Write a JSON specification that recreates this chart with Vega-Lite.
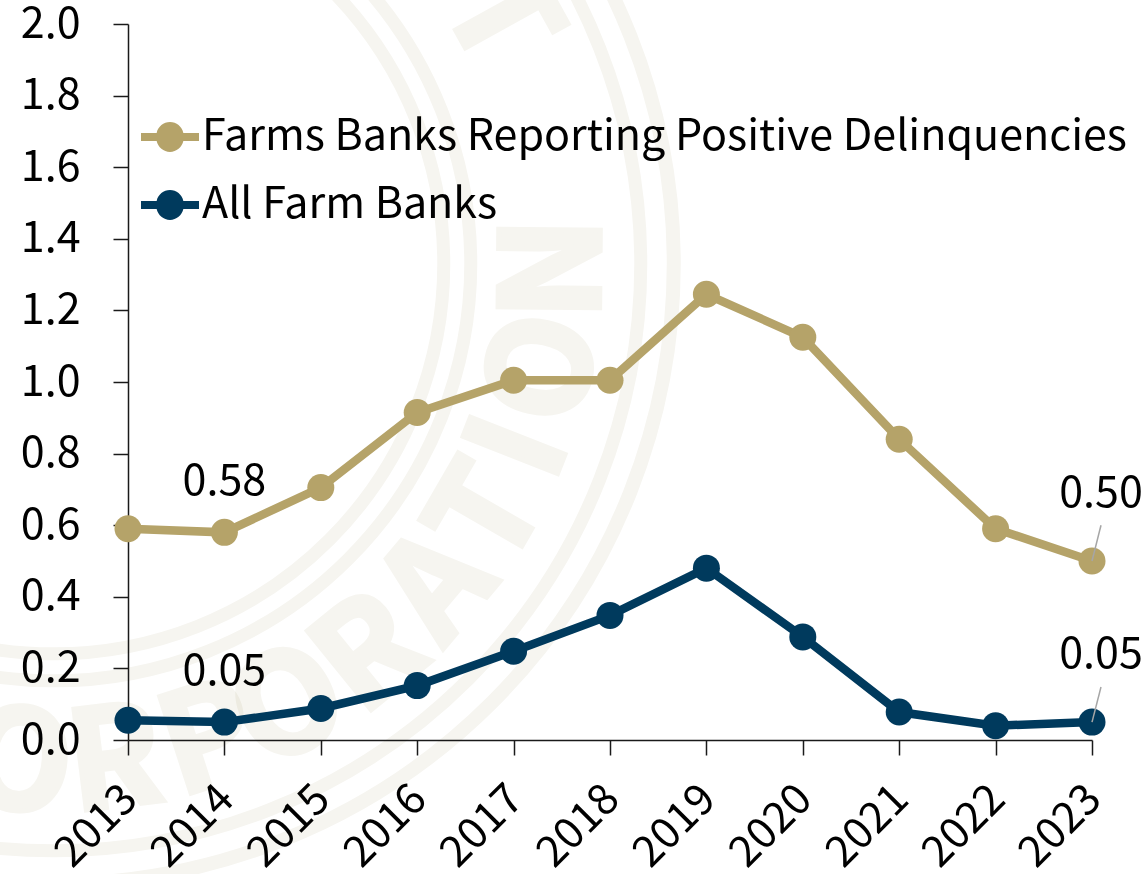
{
  "$schema": "https://vega.github.io/schema/vega-lite/v6.json",
  "width": 964,
  "height": 716,
  "padding": {"left": 128, "top": 24, "right": 53, "bottom": 134},
  "autosize": "none",
  "background": "white",
  "config": {"view": {"stroke": null}, "font": "Noto Sans CJK SC"},
  "resolve": {"scale": {"x": "independent", "y": "independent"}},
  "layer": [
    {
      "description": "Faint seal behind the chart: four rings and the lettering around them",
      "encoding": {
        "x": {"field": "pos", "type": "quantitative", "scale": {"domain": [2013, 2023], "nice": false, "zero": false}, "axis": null},
        "y": {"field": "level", "type": "quantitative", "scale": {"domain": [0, 2], "nice": false}, "axis": null}
      },
      "layer": [
        {"data": {"values": [{"pos": 2012.23, "level": 1.33}]}, "mark": {"type": "point", "filled": false, "stroke": "#f6f5f0", "blend": "multiply", "strokeWidth": 14, "size": 1537600, "opacity": 1}},
        {"data": {"values": [{"pos": 2012.23, "level": 1.33}]}, "mark": {"type": "point", "filled": false, "stroke": "#f6f5f0", "blend": "multiply", "strokeWidth": 13, "size": 1378276, "opacity": 1}},
        {"data": {"values": [{"pos": 2012.23, "level": 1.33}]}, "mark": {"type": "point", "filled": false, "stroke": "#f6f5f0", "blend": "multiply", "strokeWidth": 13, "size": 695556, "opacity": 1}},
        {"data": {"values": [{"pos": 2012.23, "level": 1.33}]}, "mark": {"type": "point", "filled": false, "stroke": "#f6f5f0", "blend": "multiply", "strokeWidth": 13, "size": 608400, "opacity": 1}},
        {
          "data": {"values": [
            {"letter": "T", "pos": 2016.82, "level": 2.014, "turn": 61},
            {"letter": "N", "pos": 2017.47, "level": 1.317, "turn": 270.5},
            {"letter": "O", "pos": 2017.36, "level": 1.036, "turn": 282},
            {"letter": "I", "pos": 2017.10, "level": 0.813, "turn": 291.5},
            {"letter": "T", "pos": 2016.77, "level": 0.624, "turn": 300},
            {"letter": "A", "pos": 2016.24, "level": 0.423, "turn": 310},
            {"letter": "R", "pos": 2015.53, "level": 0.234, "turn": 321},
            {"letter": "O", "pos": 2014.69, "level": 0.084, "turn": 332},
            {"letter": "P", "pos": 2013.85, "level": -0.011, "turn": 342},
            {"letter": "R", "pos": 2012.87, "level": -0.07, "turn": 353},
            {"letter": "O", "pos": 2011.87, "level": -0.078, "turn": 4}
          ]},
          "mark": {"type": "text", "fontSize": 137, "fontWeight": "bold", "color": "#f6f5f0", "stroke": "#f6f5f0", "strokeWidth": 5, "blend": "multiply", "baseline": "middle", "align": "center"},
          "encoding": {
            "text": {"field": "letter"},
            "angle": {"field": "turn", "type": "quantitative", "scale": null}
          }
        }
      ]
    },
    {
      "data": {"values": [
        {"year": "2013", "series": "Farms Banks Reporting Positive Delinquencies", "value": 0.59},
        {"year": "2014", "series": "Farms Banks Reporting Positive Delinquencies", "value": 0.58},
        {"year": "2015", "series": "Farms Banks Reporting Positive Delinquencies", "value": 0.705},
        {"year": "2016", "series": "Farms Banks Reporting Positive Delinquencies", "value": 0.915},
        {"year": "2017", "series": "Farms Banks Reporting Positive Delinquencies", "value": 1.005},
        {"year": "2018", "series": "Farms Banks Reporting Positive Delinquencies", "value": 1.005},
        {"year": "2019", "series": "Farms Banks Reporting Positive Delinquencies", "value": 1.245},
        {"year": "2020", "series": "Farms Banks Reporting Positive Delinquencies", "value": 1.125},
        {"year": "2021", "series": "Farms Banks Reporting Positive Delinquencies", "value": 0.84},
        {"year": "2022", "series": "Farms Banks Reporting Positive Delinquencies", "value": 0.59},
        {"year": "2023", "series": "Farms Banks Reporting Positive Delinquencies", "value": 0.5, "top": 0.6},
        {"year": "2013", "series": "All Farm Banks", "value": 0.055},
        {"year": "2014", "series": "All Farm Banks", "value": 0.05},
        {"year": "2015", "series": "All Farm Banks", "value": 0.088},
        {"year": "2016", "series": "All Farm Banks", "value": 0.152},
        {"year": "2017", "series": "All Farm Banks", "value": 0.248},
        {"year": "2018", "series": "All Farm Banks", "value": 0.348},
        {"year": "2019", "series": "All Farm Banks", "value": 0.48},
        {"year": "2020", "series": "All Farm Banks", "value": 0.288},
        {"year": "2021", "series": "All Farm Banks", "value": 0.078},
        {"year": "2022", "series": "All Farm Banks", "value": 0.04},
        {"year": "2023", "series": "All Farm Banks", "value": 0.05, "top": 0.148}
      ]},
      "encoding": {
        "x": {"field": "year", "type": "ordinal", "scale": {"type": "point", "padding": 0},
          "axis": {"title": null, "labelAngle": -45, "labelFontSize": 43, "labelColor": "#000000", "labelAlign": "right", "labelBaseline": "middle", "labelPadding": 37, "labelOffset": 2, "domainColor": "#1a1a1a", "domainWidth": 1.5, "tickColor": "#1a1a1a", "tickWidth": 1.5, "tickSize": 15, "labelOverlap": false, "grid": false}},
        "y": {"field": "value", "type": "quantitative", "scale": {"domain": [0, 2], "nice": false},
          "axis": {"title": null, "values": [0,0.2,0.4,0.6,0.8,1.0,1.2,1.4,1.6,1.8,2.0], "format": ".1f", "labelFontSize": 43, "labelColor": "#000000", "labelPadding": 33, "domainColor": "#1a1a1a", "domainWidth": 1.5, "tickColor": "#1a1a1a", "tickWidth": 1.5, "tickSize": 15, "grid": false}},
        "color": {"field": "series", "type": "nominal",
          "scale": {"domain": ["Farms Banks Reporting Positive Delinquencies", "All Farm Banks"], "range": ["#b5a369", "#003a5d"]},
          "legend": {"title": null, "orient": "none", "legendX": 13, "legendY": 84, "labelFontSize": 43, "labelColor": "#000000",
            "symbolType": "M-1,-0.14H-0.46A0.47,0.47,0,0,1,0.46,-0.14H1V0.14H0.46A0.47,0.47,0,0,1,-0.46,0.14H-1Z",
            "symbolSize": 3364, "symbolStrokeWidth": 0, "symbolOpacity": 1, "labelLimit": 1100, "rowPadding": 17, "labelOffset": 3,
            "encode": {"symbols": {"update": {"fill": {"scale": "color", "field": "value"}, "stroke": {"value": "transparent"}}}}}}
      },
      "layer": [
        {"mark": {"type": "line", "strokeWidth": 8.5, "point": {"size": 729, "filled": true, "opacity": 1}}},
        {
          "transform": [{"filter": "datum.top > 0"}],
          "mark": {"type": "rule", "strokeWidth": 1.5, "x2Offset": 9},
          "encoding": {"x2": {"field": "year"}, "y2": {"field": "top"}, "color": {"value": "#a6a6a6"}}
        },
        {
          "transform": [{"filter": "datum.year === '2014'"}],
          "mark": {"type": "text", "fontSize": 43, "dy": -50},
          "encoding": {"text": {"field": "value", "format": ".2f"}, "color": {"value": "#000000"}}
        },
        {
          "transform": [{"filter": "datum.year === '2023'"}],
          "mark": {"type": "text", "fontSize": 43, "dy": -67, "dx": 9},
          "encoding": {"text": {"field": "value", "format": ".2f"}, "color": {"value": "#000000"}}
        }
      ]
    }
  ]
}
